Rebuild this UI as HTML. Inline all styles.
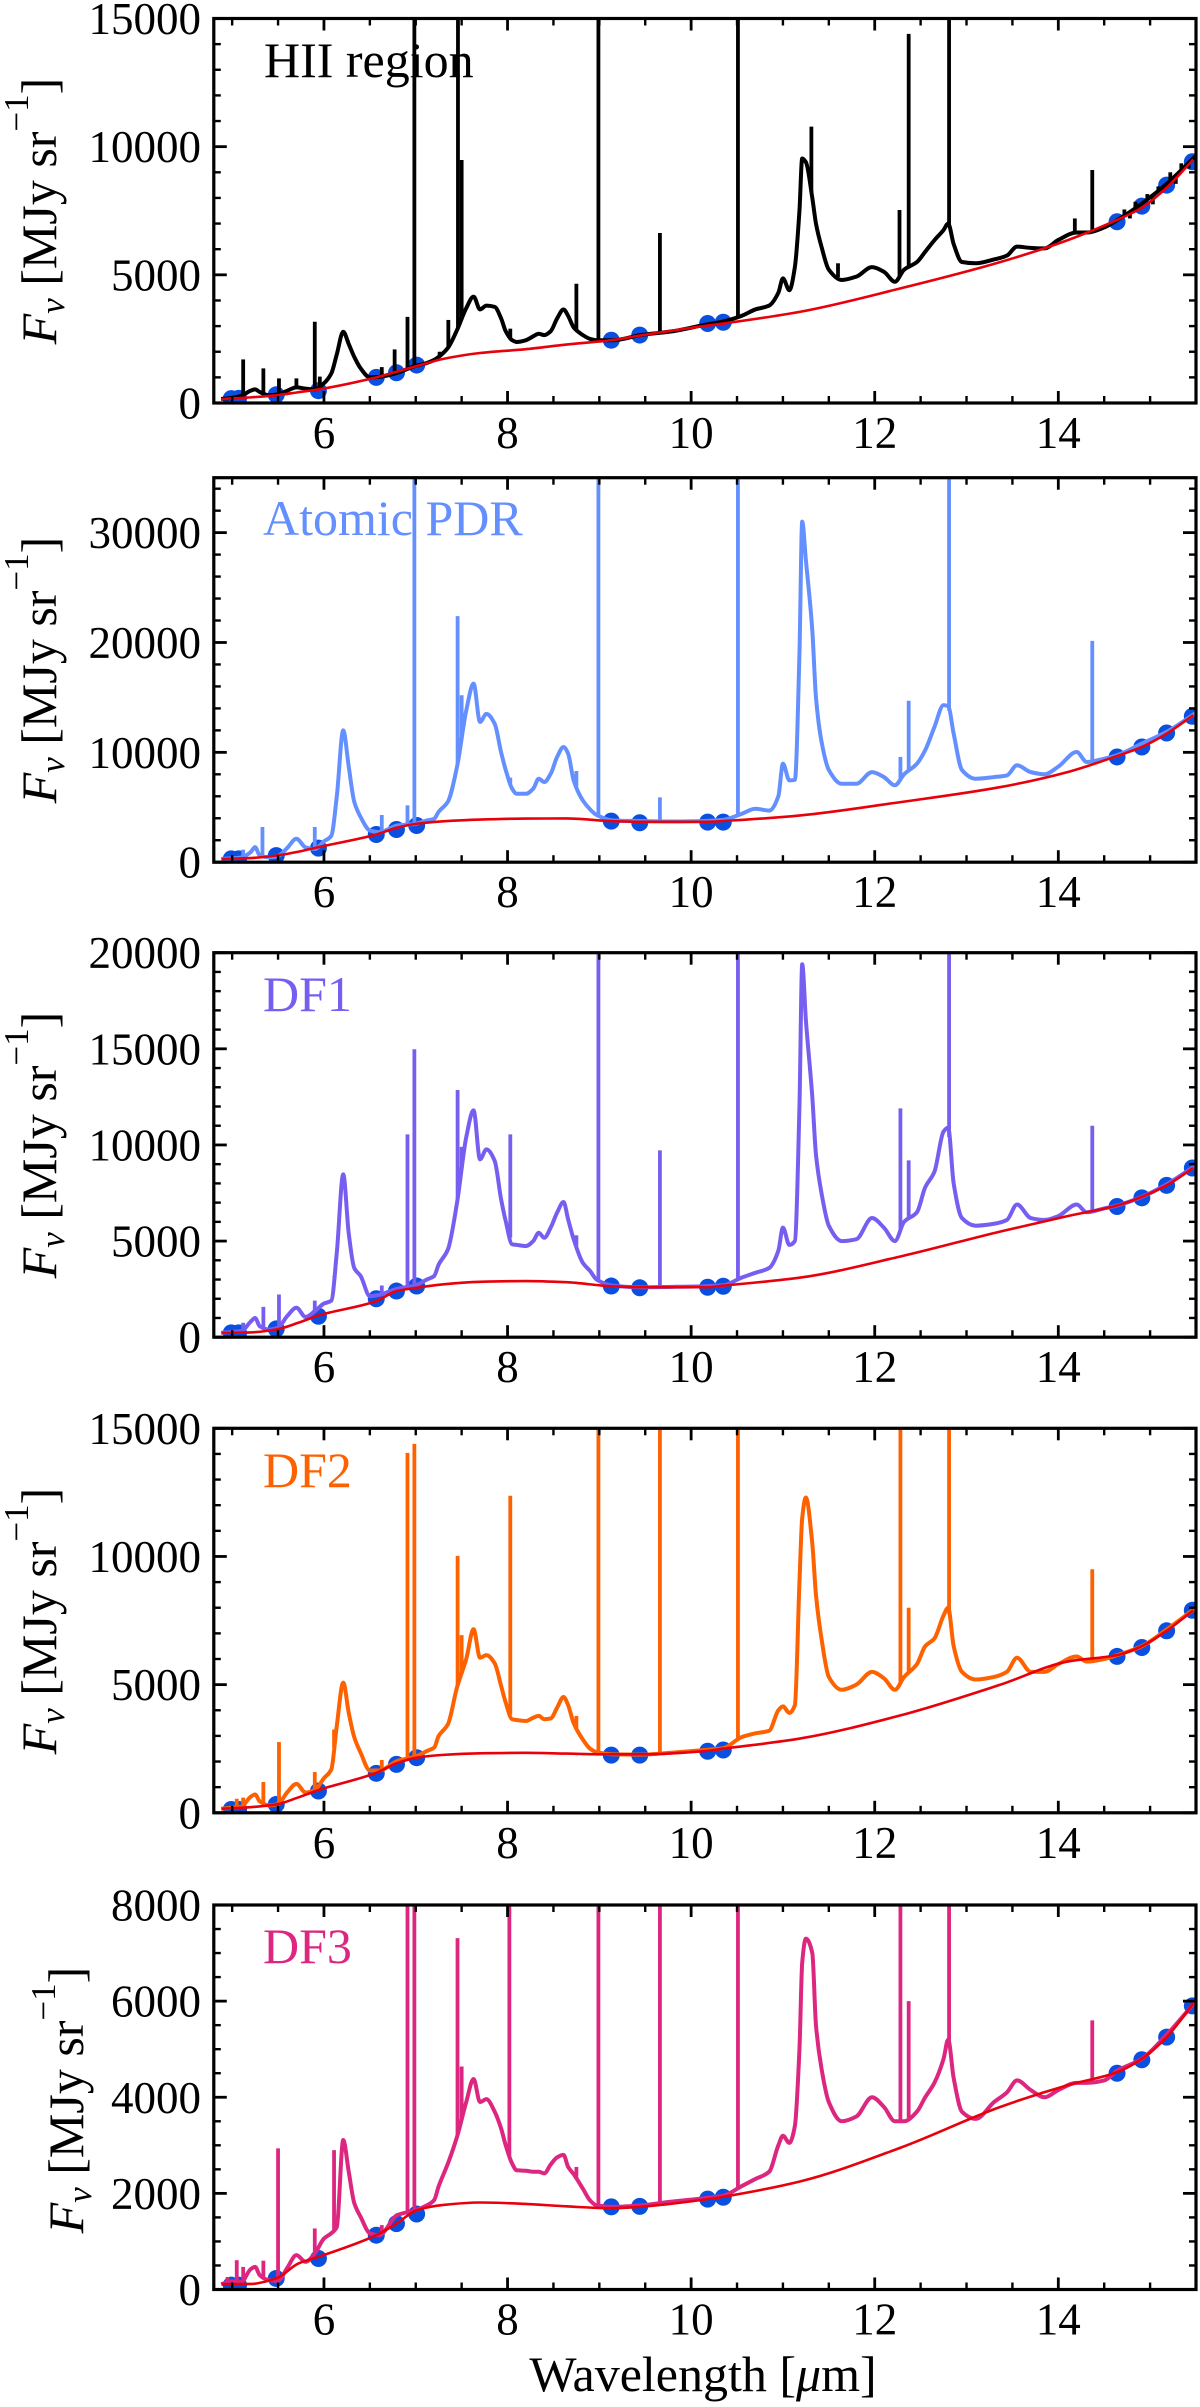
<!DOCTYPE html>
<html lang="en">
<head>
<meta charset="utf-8">
<title>Spectra of HII region, Atomic PDR, DF1, DF2 and DF3</title>
<style>
html,body{margin:0;padding:0;background:#fff;width:1200px;height:2407px;overflow:hidden}
svg{display:block}
text{font-family:"Liberation Serif","Times New Roman",serif;fill:#000}
</style>
</head>
<body>
<svg id="figure" xmlns="http://www.w3.org/2000/svg" width="1200" height="2407" viewBox="0 0 1200 2407">
<defs>
<clipPath id="clip0"><rect x="214" y="18.5" width="982" height="384.5"/></clipPath>
<clipPath id="clip1"><rect x="214" y="477.7" width="982" height="384.5"/></clipPath>
<clipPath id="clip2"><rect x="214" y="952.7" width="982" height="384.5"/></clipPath>
<clipPath id="clip3"><rect x="214" y="1428.3" width="982" height="384.5"/></clipPath>
<clipPath id="clip4"><rect x="214" y="1905" width="982" height="384.5"/></clipPath>
</defs>

<g id="panel0"></g>
<g id="panel1"></g>
<g id="panel2"></g>
<g id="panel3"></g>
<g id="panel4"></g>

<text x="264" y="77" font-size="50" style="fill:#000">HII region</text>
<text x="263" y="535" font-size="50" style="fill:#648FFF">Atomic PDR</text>
<text x="263" y="1011" font-size="50" style="fill:#785EF0">DF1</text>
<text x="263" y="1487" font-size="50" style="fill:#FE6100">DF2</text>
<text x="263" y="1963" font-size="50" style="fill:#DC267F">DF3</text>

<text transform="translate(56,211) rotate(-90)" text-anchor="middle" font-size="50"><tspan font-style="italic">F</tspan><tspan font-style="italic" font-size="35" dy="8">ν</tspan><tspan dy="-8"> [MJy sr</tspan><tspan font-size="35" dy="-28">−1</tspan><tspan dy="28">]</tspan></text>
<text transform="translate(56,670) rotate(-90)" text-anchor="middle" font-size="50"><tspan font-style="italic">F</tspan><tspan font-style="italic" font-size="35" dy="8">ν</tspan><tspan dy="-8"> [MJy sr</tspan><tspan font-size="35" dy="-28">−1</tspan><tspan dy="28">]</tspan></text>
<text transform="translate(56,1145) rotate(-90)" text-anchor="middle" font-size="50"><tspan font-style="italic">F</tspan><tspan font-style="italic" font-size="35" dy="8">ν</tspan><tspan dy="-8"> [MJy sr</tspan><tspan font-size="35" dy="-28">−1</tspan><tspan dy="28">]</tspan></text>
<text transform="translate(56,1621) rotate(-90)" text-anchor="middle" font-size="50"><tspan font-style="italic">F</tspan><tspan font-style="italic" font-size="35" dy="8">ν</tspan><tspan dy="-8"> [MJy sr</tspan><tspan font-size="35" dy="-28">−1</tspan><tspan dy="28">]</tspan></text>
<text transform="translate(83,2100) rotate(-90)" text-anchor="middle" font-size="50"><tspan font-style="italic">F</tspan><tspan font-style="italic" font-size="35" dy="8">ν</tspan><tspan dy="-8"> [MJy sr</tspan><tspan font-size="35" dy="-28">−1</tspan><tspan dy="28">]</tspan></text>

<text x="703" y="2391" text-anchor="middle" font-size="50">Wavelength [<tspan font-style="italic">μ</tspan>m]</text>
</svg>

<script>
// ---- shared wavelength grids (micron) ----
const specWaves = [
  4.88, 5.0, 5.1, 5.2, 5.25, 5.3, 5.4, 5.5, 5.6, 5.7,
  5.8, 5.9, 6.0, 6.08, 6.14, 6.21, 6.27, 6.33, 6.4, 6.5,
  6.6, 6.8, 7.0, 7.12, 7.2, 7.25, 7.35, 7.45, 7.55, 7.63,
  7.7, 7.77, 7.86, 7.93, 7.98, 8.05, 8.1, 8.2, 8.28, 8.34,
  8.4, 8.47, 8.54, 8.61, 8.66, 8.72, 8.82, 8.9, 8.97, 9.15,
  9.45, 9.8, 10.15, 10.35, 10.55, 10.7, 10.85, 10.95, 11.0, 11.07,
  11.13, 11.18, 11.21, 11.25, 11.32, 11.36, 11.42, 11.5, 11.64, 11.8,
  11.97, 12.1, 12.22, 12.32, 12.46, 12.55, 12.65, 12.75, 12.8, 12.86,
  12.95, 13.1, 13.3, 13.44, 13.55, 13.7, 13.85, 14.0, 14.2, 14.31,
  14.5, 14.64, 14.91, 15.18, 15.5
];
const contWaves = [4.885, 5.2, 5.48, 5.72, 5.94, 6.57, 6.79, 7.01, 7.3, 7.7, 8.2, 8.64, 9.13, 9.44, 10.18, 10.35, 11.19, 12.28, 13.37, 14.1, 14.64, 14.91, 15.18, 15.47];
const anchorWaves = [4.99, 5.07, 5.48, 5.94, 6.57, 6.79, 7.01, 9.13, 9.44, 10.18, 10.35, 14.64, 14.91, 15.18, 15.46];
const xMajorTicks = [6, 8, 10, 12, 14];

// ---- HII region ----
const hiiSpec = [
  156, 200, 280, 480, 530, 430, 300, 340, 480, 610,
  560, 530, 770, 1150, 1900, 2780, 2300, 1800, 1350, 1000,
  1020, 1180, 1450, 1560, 1680, 1800, 2150, 2850, 3700, 4150,
  3650, 3800, 3750, 3300, 2800, 2450, 2380, 2450, 2600, 2700,
  2650, 2800, 3300, 3650, 3400, 2950, 2650, 2500, 2450, 2450,
  2650, 2800, 3050, 3180, 3400, 3650, 3800, 4300, 4860, 4400,
  5300, 7500, 9540, 9400, 8000, 7000, 6100, 5200, 4800, 4930,
  5300, 5120, 4730, 5200, 5500, 5900, 6350, 6750, 7000, 6200,
  5500, 5450, 5600, 5750, 6100, 6050, 6030, 6360, 6650, 6650,
  6850, 7130, 7780, 8550, 9650
];
const hiiLineWaves = [5.12, 5.34, 5.51, 5.70, 5.90, 5.955, 6.26, 6.63, 6.77, 6.91, 6.985, 7.26, 7.355, 7.46, 7.5, 8.03, 8.75, 8.99, 9.66, 10.51, 11.31, 11.6, 12.27, 12.37, 12.81, 14.18, 14.37, 14.72, 14.78, 14.84, 14.97, 15.03, 15.09, 15.22, 15.28, 15.34, 15.42];
const hiiLinePeaks = [1700, 1350, 960, 960, 3170, 1030, 2450, 1400, 2090, 3360, 20000, 2000, 3240, 20000, 9480, 2900, 4650, 20000, 6630, 20000, 10780, 5450, 7530, 14400, 20000, 7200, 9090, 7550, 7200, 7850, 8150, 7750, 8450, 9000, 8550, 9350, 9150];
const hiiCont = [156, 220, 300, 420, 530, 1000, 1220, 1440, 1720, 1950, 2100, 2280, 2450, 2630, 3020, 3100, 3560, 4470, 5500, 6350, 7140, 7620, 8400, 9500];
const hiiAnchors = [170, 180, 320, 480, 1000, 1180, 1480, 2450, 2650, 3100, 3150, 7070, 7680, 8500, 9410];
const hiiYTicks = [0, 5000, 10000, 15000];

// ---- Atomic PDR ----
const atomicSpec = [
  300, 350, 430, 900, 1370, 620, 450, 560, 1300, 2130,
  1350, 1200, 1900, 2400, 6000, 12000, 8700, 5500, 4100, 2890,
  2740, 3340, 3500, 3800, 3950, 4600, 5500, 8700, 13800, 16260,
  12770, 13500, 12600, 10000, 8400, 6690, 6230, 6230, 6690, 7600,
  7300, 8050, 9580, 10490, 9880, 7450, 5620, 4800, 4300, 3800,
  3750, 3700, 3750, 3850, 4400, 4860, 4700, 6000, 8970, 7450,
  7500, 19000, 31000, 27500, 21100, 15000, 11000, 8400, 7140, 7140,
  8200, 7750, 7000, 8000, 8970, 10200, 12300, 14300, 14200, 11700,
  8400, 7600, 7750, 7900, 8820, 8200, 8000, 8700, 10030, 9120,
  9420, 9730, 10800, 11860, 13600
];
const atomicLineWaves = [5.12, 5.33, 5.90, 6.63, 6.91, 6.985, 7.456, 7.5, 8.03, 8.75, 8.99, 9.66, 10.51, 12.28, 12.37, 12.81, 14.37];
const atomicLinePeaks = [1150, 3200, 3200, 4300, 5170, 40000, 22400, 15200, 7700, 8300, 40000, 5900, 40000, 9580, 14700, 40000, 20150];
const atomicCont = [300, 380, 600, 950, 1370, 2520, 3130, 3500, 3720, 3880, 3970, 3980, 3740, 3680, 3680, 3750, 4260, 5470, 6840, 8200, 9670, 10490, 11700, 13380];
const atomicAnchors = [300, 300, 600, 1280, 2520, 2980, 3340, 3740, 3590, 3650, 3650, 9580, 10490, 11760, 13280];
const atomicYTicks = [0, 10000, 20000, 30000];

// ---- DF1 ----
const df1Spec = [
  225, 280, 320, 800, 1000, 570, 400, 500, 1100, 1530,
  1050, 1350, 1750, 1900, 4400, 8470, 5400, 3600, 3180, 2135,
  2200, 2520, 2700, 3000, 3180, 3780, 4560, 7000, 10400, 11800,
  9250, 9770, 9170, 7170, 6040, 4830, 4800, 4740, 5000, 5430,
  5170, 5700, 6480, 7030, 6130, 5100, 3870, 3440, 3000, 2680,
  2600, 2620, 2650, 2700, 3100, 3350, 3600, 4500, 5700, 4800,
  5000, 12000, 19400, 16500, 12500, 9500, 7500, 5800, 5000, 5100,
  6200, 5700, 5000, 6000, 6500, 7800, 8600, 10700, 10900, 8000,
  6200, 5800, 5900, 6100, 6900, 6200, 6100, 6300, 6900, 6500,
  6700, 6850, 7300, 7950, 8950
];
const df1LineWaves = [5.12, 5.34, 5.51, 5.90, 6.11, 6.63, 6.91, 6.985, 7.456, 7.5, 8.03, 8.75, 8.99, 9.66, 10.51, 12.28, 12.37, 12.81, 14.37];
const df1LinePeaks = [750, 1580, 2220, 1900, 3180, 2690, 10550, 14980, 12860, 9900, 10550, 5300, 30000, 9720, 30000, 11900, 9200, 30000, 11000];
const df1Cont = [225, 250, 400, 750, 1130, 1875, 2400, 2570, 2750, 2880, 2920, 2860, 2650, 2600, 2600, 2680, 3100, 4200, 5500, 6300, 6850, 7300, 7900, 8800];
const df1Anchors = [225, 225, 430, 1090, 2000, 2400, 2660, 2660, 2570, 2600, 2650, 6800, 7250, 7900, 8800];
const df1YTicks = [0, 5000, 10000, 15000, 20000];

// ---- DF2 ----
const df2Spec = [
  156, 200, 240, 620, 716, 450, 290, 340, 800, 1130,
  790, 885, 1350, 1690, 3400, 5080, 3900, 2950, 2340, 1650,
  1650, 2020, 2200, 2410, 2540, 3000, 3450, 4900, 6000, 7160,
  6050, 6150, 5830, 4950, 4300, 3650, 3620, 3580, 3710, 3780,
  3650, 3680, 4100, 4520, 4200, 3500, 2860, 2500, 2370, 2280,
  2270, 2350, 2450, 2520, 2950, 3100, 3200, 4000, 4150, 3900,
  4200, 9000, 11500, 12300, 10500, 8500, 6800, 5300, 4800, 5000,
  5500, 5250, 4800, 5300, 5800, 6500, 6800, 7700, 8000, 6500,
  5500, 5200, 5300, 5500, 6050, 5500, 5500, 5800, 6100, 5900,
  6000, 6150, 6500, 7150, 8000
];
const df2LineWaves = [5.05, 5.12, 5.34, 5.51, 5.90, 6.11, 6.63, 6.91, 6.985, 7.456, 7.5, 8.03, 8.75, 8.99, 9.66, 10.51, 12.28, 12.37, 12.81, 14.37];
const df2LinePeaks = [550, 590, 1200, 2760, 1590, 3250, 2060, 14040, 14390, 10025, 6930, 12370, 3780, 30000, 30000, 30000, 30000, 8000, 30000, 9500];
const df2Cont = [156, 220, 325, 600, 885, 1560, 1930, 2150, 2260, 2320, 2340, 2310, 2280, 2280, 2420, 2500, 2900, 3800, 5000, 5900, 6150, 6500, 7100, 7900];
const df2Anchors = [130, 130, 325, 850, 1540, 1890, 2150, 2250, 2250, 2400, 2450, 6100, 6450, 7100, 7900];
const df2YTicks = [0, 5000, 10000, 15000];

// ---- DF3 ----
const df3Spec = [
  110, 170, 160, 420, 470, 300, 195, 180, 450, 715,
  576, 750, 1060, 1170, 1300, 3110, 2450, 1800, 1510, 1170,
  1130, 1550, 1650, 1750, 1860, 2150, 2620, 3180, 3900, 4380,
  3900, 3960, 3700, 3350, 3000, 2620, 2480, 2470, 2450, 2450,
  2415, 2600, 2750, 2800, 2550, 2400, 2100, 1850, 1750, 1720,
  1750, 1830, 1900, 1950, 2150, 2300, 2450, 3000, 3200, 3050,
  3400, 5000, 6800, 7300, 7000, 5500, 4600, 3900, 3500, 3600,
  4000, 3800, 3500, 3500, 3700, 4000, 4300, 4800, 5200, 4400,
  3700, 3550, 3900, 4100, 4350, 4150, 4000, 4150, 4300, 4300,
  4350, 4550, 4800, 5300, 6000
];
const df3LineWaves = [4.95, 5.05, 5.12, 5.34, 5.50, 5.90, 6.11, 6.63, 6.91, 6.985, 7.455, 7.5, 8.02, 8.75, 8.99, 9.66, 10.51, 12.28, 12.37, 12.81, 14.37];
const df3LinePeaks = [260, 610, 470, 600, 2935, 1270, 2900, 1340, 20000, 20000, 7310, 4640, 20000, 2550, 20000, 20000, 20000, 20000, 6000, 20000, 5600];
const df3Cont = [110, 115, 230, 540, 680, 1130, 1370, 1650, 1760, 1810, 1780, 1730, 1690, 1720, 1880, 1930, 2250, 2950, 3800, 4250, 4520, 4800, 5250, 5950];
const df3Anchors = [90, 90, 230, 645, 1130, 1370, 1570, 1720, 1730, 1880, 1920, 4500, 4780, 5250, 5900];
const df3YTicks = [0, 2000, 4000, 6000, 8000];

// ---- panel setup ----
const xMin = 4.8, xMax = 15.5, plotLeft = 213.8, plotRight = 1196, plotHeight = 384.5;
const panels = [
  {slug:'hii', top:18.5, yMax:15000, minor:1000, color:'#000000', spec:hiiSpec, lw:hiiLineWaves, lp:hiiLinePeaks, cont:hiiCont, anchors:hiiAnchors, ticks:hiiYTicks},
  {slug:'atomic-pdr', top:477.7, yMax:35000, minor:2000, color:'#648FFF', spec:atomicSpec, lw:atomicLineWaves, lp:atomicLinePeaks, cont:atomicCont, anchors:atomicAnchors, ticks:atomicYTicks},
  {slug:'df1', top:952.7, yMax:20000, minor:1000, color:'#785EF0', spec:df1Spec, lw:df1LineWaves, lp:df1LinePeaks, cont:df1Cont, anchors:df1Anchors, ticks:df1YTicks},
  {slug:'df2', top:1428.3, yMax:15000, minor:1000, color:'#FE6100', spec:df2Spec, lw:df2LineWaves, lp:df2LinePeaks, cont:df2Cont, anchors:df2Anchors, ticks:df2YTicks},
  {slug:'df3', top:1905, yMax:8000, minor:500, color:'#DC267F', spec:df3Spec, lw:df3LineWaves, lp:df3LinePeaks, cont:df3Cont, anchors:df3Anchors, ticks:df3YTicks}
];

const NS = 'http://www.w3.org/2000/svg';
function xScale(w){ return plotLeft + (w - xMin) / (xMax - xMin) * (plotRight - plotLeft); }
function yScale(p, v){ return p.top + plotHeight - v / p.yMax * plotHeight; }
function baseAt(w, values){
  for (let i = 1; i < specWaves.length; i++) {
    if (w <= specWaves[i]) {
      const t = (w - specWaves[i-1]) / (specWaves[i] - specWaves[i-1]);
      return values[i-1] + t * (values[i] - values[i-1]);
    }
  }
  return values[values.length-1];
}
// monotone cubic path through the series, so band peaks stay at their read values
function monotonePath(p, ws, vs){
  const X = ws.map(xScale), Y = vs.map(v => yScale(p, v)), n = X.length;
  const h = [], d = [], m = [];
  for (let i = 0; i < n - 1; i++) { h[i] = X[i+1] - X[i]; d[i] = (Y[i+1] - Y[i]) / h[i]; }
  m[0] = d[0];
  m[n-1] = d[n-2];
  for (let i = 1; i < n - 1; i++) {
    m[i] = d[i-1] * d[i] <= 0 ? 0 : 3 * (h[i-1] + h[i]) / ((2*h[i] + h[i-1]) / d[i-1] + (h[i] + 2*h[i-1]) / d[i]);
  }
  let s = 'M' + X[0].toFixed(2) + ' ' + Y[0].toFixed(2);
  for (let i = 0; i < n - 1; i++) {
    s += 'C' + (X[i] + h[i]/3).toFixed(2) + ' ' + (Y[i] + m[i]*h[i]/3).toFixed(2) + ' ' +
         (X[i+1] - h[i]/3).toFixed(2) + ' ' + (Y[i+1] - m[i+1]*h[i]/3).toFixed(2) + ' ' +
         X[i+1].toFixed(2) + ' ' + Y[i+1].toFixed(2);
  }
  return s;
}
function line(parent, x1, y1, x2, y2, w){
  const el = document.createElementNS(NS, 'line');
  
  
  el.setAttribute('x1', x1);
  el.setAttribute('y1', y1);
  el.setAttribute('x2', x2);
  el.setAttribute('y2', y2);
  el.setAttribute('stroke', '#000');
  el.setAttribute('stroke-width', w);
  parent.appendChild(el);
}

panels.forEach((p, idx) => {
  const g = document.getElementById('panel' + idx);
  const bottom = p.top + plotHeight;

  // data layer, clipped to axes
  const data = document.createElementNS(NS, 'g');
  
  
  data.setAttribute('clip-path', 'url(#clip' + idx + ')');
  g.appendChild(data);

  anchorWaves.forEach((w, i) => {
    const c = document.createElementNS(NS, 'circle');
    
    
    c.setAttribute('cx', xScale(w));
    c.setAttribute('cy', yScale(p, p.anchors[i]));
    c.setAttribute('r', 8.5);
    c.setAttribute('fill', '#0A50E0');
    data.appendChild(c);
  });

  const spec = document.createElementNS(NS, 'path');
  
  
  spec.setAttribute('d', monotonePath(p, specWaves, p.spec));
  spec.setAttribute('fill', 'none');
  spec.setAttribute('stroke', p.color);
  spec.setAttribute('stroke-width', 4);
  spec.setAttribute('stroke-linejoin', 'round');
  data.appendChild(spec);

  p.lw.forEach((w, i) => {
    const em = document.createElementNS(NS, 'line');
    
    
    em.setAttribute('x1', xScale(w));
    em.setAttribute('x2', xScale(w));
    em.setAttribute('y1', yScale(p, baseAt(w, p.spec)));
    em.setAttribute('y2', yScale(p, p.lp[i]));
    em.setAttribute('stroke', p.color);
    em.setAttribute('stroke-width', 3.8);
    data.appendChild(em);
  });

  const cont = document.createElementNS(NS, 'path');
  
  
  cont.setAttribute('d', monotonePath(p, contWaves, p.cont));
  cont.setAttribute('fill', 'none');
  cont.setAttribute('stroke', '#E8000B');
  cont.setAttribute('stroke-width', 2.6);
  data.appendChild(cont);

  // ticks
  for (let k = 0; k <= 21; k++) {
    const w = 5 + k * 0.5;
    const x = xScale(w);
    const isMajor = xMajorTicks.indexOf(w) >= 0;
    const len = isMajor ? 12 : 7;
    line(g, x, bottom, x, bottom - len, isMajor ? 2.8 : 2.4);
    line(g, x, p.top, x, p.top + len, isMajor ? 2.8 : 2.4);
  }
  for (let v = 0; v <= p.yMax + 0.5; v += p.minor) {
    const y = yScale(p, v);
    const isMajor = p.ticks.indexOf(v) >= 0;
    const len = isMajor ? 13 : 7;
    line(g, plotLeft, y, plotLeft + len, y, isMajor ? 2.8 : 2.4);
    line(g, plotRight, y, plotRight - len, y, isMajor ? 2.8 : 2.4);
  }

  // tick labels
  xMajorTicks.forEach(w => {
    const t = document.createElementNS(NS, 'text');
    
    
    t.setAttribute('x', xScale(w));
    t.setAttribute('y', bottom + 45);
    t.setAttribute('text-anchor', 'middle');
    t.setAttribute('font-size', 45);
    t.textContent = String(w);
    g.appendChild(t);
  });
  p.ticks.forEach(v => {
    const t = document.createElementNS(NS, 'text');
    
    
    t.setAttribute('x', 201);
    t.setAttribute('y', yScale(p, v) + 15.5);
    t.setAttribute('text-anchor', 'end');
    t.setAttribute('font-size', 45);
    t.textContent = String(v);
    g.appendChild(t);
  });

  // axes frame
  const frame = document.createElementNS(NS, 'rect');
  
  
  frame.setAttribute('x', plotLeft);
  frame.setAttribute('y', p.top);
  frame.setAttribute('width', plotRight - plotLeft);
  frame.setAttribute('height', plotHeight);
  frame.setAttribute('fill', 'none');
  frame.setAttribute('stroke', '#000');
  frame.setAttribute('stroke-width', 3.2);
  g.appendChild(frame);
});
</script>
</body>
</html>
